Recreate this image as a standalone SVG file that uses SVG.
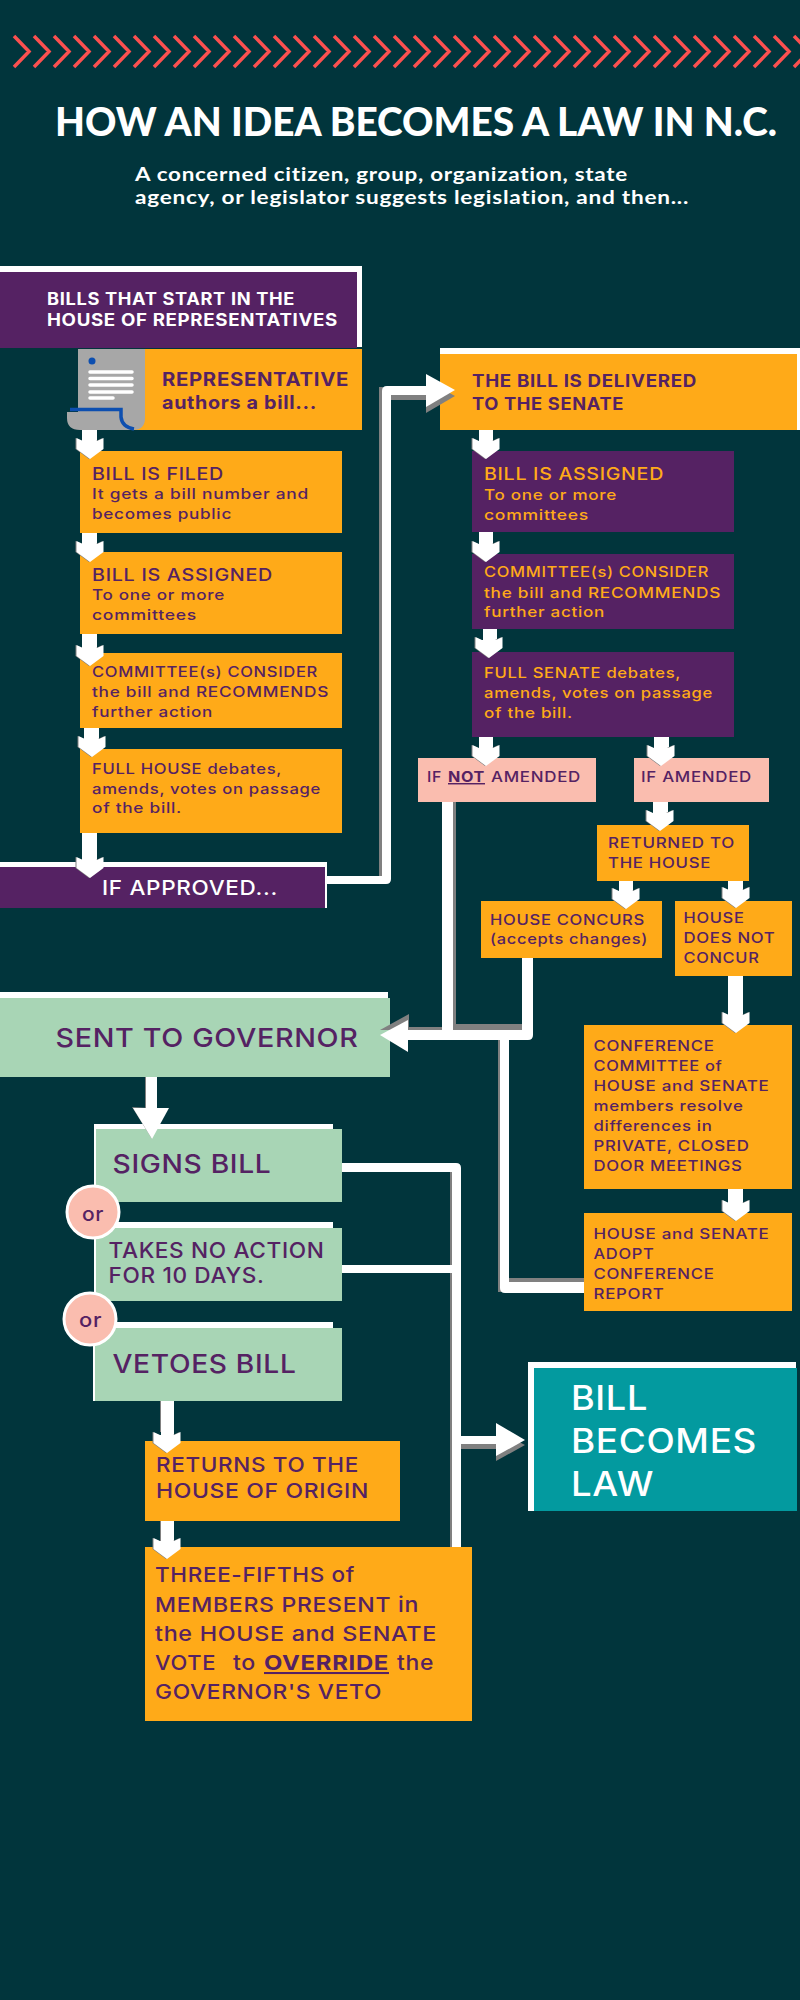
<svg xmlns="http://www.w3.org/2000/svg" width="800" height="2000" viewBox="0 0 800 2000">
<style>
text{font-family:Inter,"Liberation Sans",sans-serif;font-weight:500;fill:#552263;letter-spacing:.6px}
.l{font-family:Lato,"Liberation Sans",sans-serif;font-weight:700;fill:#fff}
.b{font-weight:700}
.o{fill:#ffaa18}.p{fill:#552263}.g{fill:#a8d5b5}.k{fill:#fabdaf}.w{fill:#fff}.s{fill:#808080}
text.wt{fill:#fff}text.y{fill:#ffaa18}
.s14{font-size:14.5px}.s17{font-size:17px}.s21{font-size:20.5px}
.c{fill:#fabdaf;stroke:#fff;stroke-width:3}
</style>
<defs>
<path id="hd" d="M0 0L-13.5-10V-21L-7-18H7L13.5-21V-10Z"/>
<g id="d"><use href="#hd" x="-1" fill="#808080"/><use href="#hd" fill="#fff"/></g>
</defs>
<rect width="800" height="2000" fill="#01353c"/>
<path id="chevrons" fill="none" stroke="#fb5050" stroke-width="3.500" d="M14 36l15 15.500l-15 15.500M34 36l15 15.500l-15 15.500M54 36l15 15.500l-15 15.500M74 36l15 15.500l-15 15.500M94 36l15 15.500l-15 15.500M114 36l15 15.500l-15 15.500M134 36l15 15.500l-15 15.500M154 36l15 15.500l-15 15.500M174 36l15 15.500l-15 15.500M194 36l15 15.500l-15 15.500M214 36l15 15.500l-15 15.500M234 36l15 15.500l-15 15.500M254 36l15 15.500l-15 15.500M274 36l15 15.500l-15 15.500M294 36l15 15.500l-15 15.500M314 36l15 15.500l-15 15.500M334 36l15 15.500l-15 15.500M354 36l15 15.500l-15 15.500M374 36l15 15.500l-15 15.500M394 36l15 15.500l-15 15.500M414 36l15 15.500l-15 15.500M434 36l15 15.500l-15 15.500M454 36l15 15.500l-15 15.500M474 36l15 15.500l-15 15.500M494 36l15 15.500l-15 15.500M514 36l15 15.500l-15 15.500M534 36l15 15.500l-15 15.500M554 36l15 15.500l-15 15.500M574 36l15 15.500l-15 15.500M594 36l15 15.500l-15 15.500M614 36l15 15.500l-15 15.500M634 36l15 15.500l-15 15.500M654 36l15 15.500l-15 15.500M674 36l15 15.500l-15 15.500M694 36l15 15.500l-15 15.500M714 36l15 15.500l-15 15.500M734 36l15 15.500l-15 15.500M754 36l15 15.500l-15 15.500M774 36l15 15.500l-15 15.500M794 36l15 15.500l-15 15.500"/>
<g id="title">
<text class="l" style="font-weight:900;letter-spacing:0" x="55" y="136" font-size="40" textLength="722" lengthAdjust="spacingAndGlyphs">HOW AN IDEA BECOMES A LAW IN N.C.</text>
<text class="l" x="135" y="181" font-size="18.500" textLength="493" lengthAdjust="spacingAndGlyphs">A concerned citizen, group, organization, state</text>
<text class="l" x="135" y="204" font-size="18.500" textLength="554" lengthAdjust="spacingAndGlyphs">agency, or legislator suggests legislation, and then...</text>
</g>

<g id="house-header">
<rect class="w" y="266" width="362" height="81"/><rect class="p" y="272" width="357" height="76"/>
<text class="b s17 wt" x="47" y="305" textLength="248" lengthAdjust="spacingAndGlyphs">BILLS THAT START IN THE</text>
<text class="b s17 wt" x="47" y="326" textLength="291" lengthAdjust="spacingAndGlyphs">HOUSE OF REPRESENTATIVES</text>
</g>
<g id="representative">
<rect class="o" x="120" y="349" width="242" height="81"/>
<path fill="#a7a7a7" d="M78 349H145V418Q145 430 133 430H80Q67 430 67 418V412H78Z"/>
<path fill="none" stroke="#0d4fb0" stroke-width="3.500" d="M70 409.500H121V417Q122 427 134 429"/>
<circle cx="92" cy="361" r="3.500" fill="#0d4fb0"/>
<path fill="none" stroke="#fff" stroke-width="3.500" stroke-linecap="round" d="M90 372H132M90 378.500H132M90 385H132M90 392H132M90 398H113"/>
<text class="b" font-size="18.500" x="162" y="386" textLength="187" lengthAdjust="spacingAndGlyphs">REPRESENTATIVE</text>
<text class="b" font-size="18.500" x="162" y="409" textLength="155" lengthAdjust="spacingAndGlyphs">authors a bill...</text>
</g>
<g id="bill-filed">
<rect class="o" x="80" y="451" width="262" height="82"/>
<text class="s17" x="92" y="480" textLength="132" lengthAdjust="spacingAndGlyphs">BILL IS FILED</text>
<text class="s14" x="92" y="499" textLength="217" lengthAdjust="spacingAndGlyphs">It gets a bill number and</text>
<text class="s14" x="92" y="519" textLength="140" lengthAdjust="spacingAndGlyphs">becomes public</text>
</g>
<g id="bill-assigned">
<rect class="o" x="80" y="552" width="262" height="82"/>
<text class="s17" x="92" y="581" textLength="181" lengthAdjust="spacingAndGlyphs">BILL IS ASSIGNED</text>
<text class="s14" x="92" y="600" textLength="133" lengthAdjust="spacingAndGlyphs">To one or more</text>
<text class="s14" x="92" y="620" textLength="105" lengthAdjust="spacingAndGlyphs">committees</text>
</g>
<g id="committee">
<rect class="o" x="80" y="653" width="262" height="75"/>
<text class="s14" x="92" y="677" textLength="226" lengthAdjust="spacingAndGlyphs">COMMITTEE(s) CONSIDER</text>
<text class="s14" x="92" y="697" textLength="237" lengthAdjust="spacingAndGlyphs">the bill and RECOMMENDS</text>
<text class="s14" x="92" y="717" textLength="121" lengthAdjust="spacingAndGlyphs">further action</text>
</g>
<g id="full-house">
<rect class="o" x="80" y="749" width="262" height="84"/>
<text class="s14" x="92" y="774" textLength="190" lengthAdjust="spacingAndGlyphs">FULL HOUSE debates,</text>
<text class="s14" x="92" y="793.500" textLength="229" lengthAdjust="spacingAndGlyphs">amends, votes on passage</text>
<text class="s14" x="92" y="813" textLength="90" lengthAdjust="spacingAndGlyphs">of the bill.</text>
</g>
<g id="if-approved">
<rect class="w" y="862" width="327" height="46"/><rect class="p" y="867" width="325" height="41"/>
<text class="wt" font-size="20" x="102" y="895" textLength="176" lengthAdjust="spacingAndGlyphs">IF APPROVED...</text>
</g>
<g id="senate">
<rect class="w" x="440" y="348" width="360" height="82"/><rect class="o" x="440" y="354" width="357" height="76"/>
<text class="b s17" x="472" y="387" textLength="225" lengthAdjust="spacingAndGlyphs">THE BILL IS DELIVERED</text>
<text class="b s17" x="472" y="410" textLength="152" lengthAdjust="spacingAndGlyphs">TO THE SENATE</text>
</g>
<g id="senate-assigned">
<rect class="p" x="472" y="451" width="262" height="81"/>
<text class="s17 y" x="484" y="480" textLength="180" lengthAdjust="spacingAndGlyphs">BILL IS ASSIGNED</text>
<text class="s14 y" x="484" y="499.500" textLength="133" lengthAdjust="spacingAndGlyphs">To one or more</text>
<text class="s14 y" x="484" y="520" textLength="105" lengthAdjust="spacingAndGlyphs">committees</text>
</g>
<g id="senate-committee">
<rect class="p" x="472" y="554" width="262" height="75"/>
<text class="s14 y" x="484" y="577" textLength="225" lengthAdjust="spacingAndGlyphs">COMMITTEE(s) CONSIDER</text>
<text class="s14 y" x="484" y="597.500" textLength="237" lengthAdjust="spacingAndGlyphs">the bill and RECOMMENDS</text>
<text class="s14 y" x="484" y="617" textLength="121" lengthAdjust="spacingAndGlyphs">further action</text>
</g>
<g id="full-senate">
<rect class="p" x="472" y="652" width="262" height="85"/>
<text class="s14 y" x="484" y="677.500" textLength="197" lengthAdjust="spacingAndGlyphs">FULL SENATE debates,</text>
<text class="s14 y" x="484" y="698" textLength="229" lengthAdjust="spacingAndGlyphs">amends, votes on passage</text>
<text class="s14 y" x="484" y="718" textLength="89" lengthAdjust="spacingAndGlyphs">of the bill.</text>
</g>
<g id="if-not-amended">
<rect class="k" x="418" y="758" width="178" height="44"/>
<text class="s14" y="782"><tspan x="427" textLength="15" lengthAdjust="spacingAndGlyphs">IF</tspan> <tspan class="b" x="448" textLength="37" lengthAdjust="spacingAndGlyphs" text-decoration="underline">NOT</tspan> <tspan x="491" textLength="90" lengthAdjust="spacingAndGlyphs">AMENDED</tspan></text>
</g>
<g id="if-amended">
<rect class="k" x="634" y="758" width="135" height="44"/>
<text class="s14" x="641" y="782" textLength="111" lengthAdjust="spacingAndGlyphs">IF AMENDED</text>
</g>
<g id="returned">
<rect class="o" x="597" y="825" width="152" height="56"/>
<text class="s14" x="608" y="848" textLength="127" lengthAdjust="spacingAndGlyphs">RETURNED TO</text>
<text class="s14" x="608" y="868" textLength="103" lengthAdjust="spacingAndGlyphs">THE HOUSE</text>
</g>
<g id="concurs">
<rect class="o" x="481" y="901" width="181" height="57"/>
<text class="s14" x="490" y="924.500" textLength="155" lengthAdjust="spacingAndGlyphs">HOUSE CONCURS</text>
<text class="s14" x="490" y="944" textLength="158" lengthAdjust="spacingAndGlyphs">(accepts changes)</text>
</g>
<g id="not-concur">
<rect class="o" x="675" y="901" width="117" height="75"/>
<text class="s14" x="683.500" y="923" textLength="61" lengthAdjust="spacingAndGlyphs">HOUSE</text>
<text class="s14" x="683.500" y="943" textLength="92" lengthAdjust="spacingAndGlyphs">DOES NOT</text>
<text class="s14" x="683.500" y="963" textLength="76" lengthAdjust="spacingAndGlyphs">CONCUR</text>
</g>
<g id="conference">
<rect class="o" x="584" y="1025" width="208" height="164"/>
<text class="s14" x="593.500" y="1051" textLength="121" lengthAdjust="spacingAndGlyphs">CONFERENCE</text>
<text class="s14" x="593.500" y="1071" textLength="129" lengthAdjust="spacingAndGlyphs">COMMITTEE of</text>
<text class="s14" x="593.500" y="1091" textLength="176" lengthAdjust="spacingAndGlyphs">HOUSE and SENATE</text>
<text class="s14" x="593.500" y="1111" textLength="150" lengthAdjust="spacingAndGlyphs">members resolve</text>
<text class="s14" x="593.500" y="1131" textLength="119" lengthAdjust="spacingAndGlyphs">differences in</text>
<text class="s14" x="593.500" y="1151" textLength="156" lengthAdjust="spacingAndGlyphs">PRIVATE, CLOSED</text>
<text class="s14" x="593.500" y="1171" textLength="149" lengthAdjust="spacingAndGlyphs">DOOR MEETINGS</text>
</g>
<g id="adopt">
<rect class="o" x="584" y="1213" width="208" height="98"/>
<text class="s14" x="593.500" y="1239" textLength="176" lengthAdjust="spacingAndGlyphs">HOUSE and SENATE</text>
<text class="s14" x="593.500" y="1259" textLength="61" lengthAdjust="spacingAndGlyphs">ADOPT</text>
<text class="s14" x="593.500" y="1279" textLength="121" lengthAdjust="spacingAndGlyphs">CONFERENCE</text>
<text class="s14" x="593.500" y="1299" textLength="71" lengthAdjust="spacingAndGlyphs">REPORT</text>
</g>
<g id="governor">
<rect class="w" y="992" width="388" height="10"/><rect class="g" y="998" width="390" height="79"/>
<text font-size="26" x="55.500" y="1047" textLength="303" lengthAdjust="spacingAndGlyphs">SENT TO GOVERNOR</text>
</g>
<g id="signs">
<rect class="w" x="94" y="1124" width="239" height="78"/><rect class="g" x="96" y="1129" width="246" height="73"/>
<text font-size="25" x="112.500" y="1173" textLength="159" lengthAdjust="spacingAndGlyphs">SIGNS BILL</text>
</g>
<g id="takes">
<rect class="w" x="94" y="1222" width="239" height="79"/><rect class="g" x="96" y="1228" width="246" height="73"/>
<text font-size="21.500" x="108.500" y="1258" textLength="216" lengthAdjust="spacingAndGlyphs">TAKES NO ACTION</text>
<text font-size="21.500" x="108.500" y="1283" textLength="156" lengthAdjust="spacingAndGlyphs">FOR 10 DAYS.</text>
</g>
<g id="vetoes">
<rect class="w" x="93" y="1322" width="240" height="79"/><rect class="g" x="95" y="1328" width="247" height="73"/>
<text font-size="25" x="112.500" y="1373" textLength="184" lengthAdjust="spacingAndGlyphs">VETOES BILL</text>
</g>
<g id="or-1">
<circle class="c" cx="93" cy="1212" r="26"/>
<text font-size="20" x="82" y="1221" textLength="22" lengthAdjust="spacingAndGlyphs">or</text>
</g>
<g id="or-2">
<circle class="c" cx="90" cy="1319" r="26"/>
<text font-size="20" x="79" y="1327" textLength="23" lengthAdjust="spacingAndGlyphs">or</text>
</g>
<g id="returns">
<rect class="o" x="145" y="1441" width="255" height="80"/>
<text class="s21" x="156" y="1472" textLength="203" lengthAdjust="spacingAndGlyphs">RETURNS TO THE</text>
<text class="s21" x="156" y="1498" textLength="213" lengthAdjust="spacingAndGlyphs">HOUSE OF ORIGIN</text>
</g>
<g id="override">
<rect class="o" x="145" y="1547" width="327" height="174"/>
<text class="s21" x="155" y="1582" textLength="200" lengthAdjust="spacingAndGlyphs">THREE-FIFTHS of</text>
<text class="s21" x="155" y="1612" textLength="264" lengthAdjust="spacingAndGlyphs">MEMBERS PRESENT in</text>
<text class="s21" x="155" y="1641" textLength="282" lengthAdjust="spacingAndGlyphs">the HOUSE and SENATE</text>
<text class="s21" y="1670"><tspan x="155" textLength="61" lengthAdjust="spacingAndGlyphs">VOTE</tspan> <tspan x="233" textLength="23" lengthAdjust="spacingAndGlyphs">to</tspan> <tspan class="b" x="264" textLength="125" lengthAdjust="spacingAndGlyphs" text-decoration="underline">OVERRIDE</tspan> <tspan x="397" textLength="37" lengthAdjust="spacingAndGlyphs">the</tspan></text>
<text class="s21" x="155" y="1699" textLength="227" lengthAdjust="spacingAndGlyphs">GOVERNOR'S VETO</text>
</g>
<g id="law">
<rect class="w" x="528" y="1362" width="268" height="149"/><rect x="534" y="1368" width="263" height="143" fill="#039a9f"/>
<text class="wt" font-size="34" x="571" y="1410" textLength="77" lengthAdjust="spacingAndGlyphs">BILL</text>
<text class="wt" font-size="34" x="571" y="1453" textLength="186" lengthAdjust="spacingAndGlyphs">BECOMES</text>
<text class="wt" font-size="34" x="571" y="1496" textLength="83" lengthAdjust="spacingAndGlyphs">LAW</text>
</g>

<g id="connectors">
<g class="s">
<rect x="379" y="387" width="4" height="490"/><rect x="383" y="394" width="43" height="6"/>
<path d="M426 380L455 396L426 413Z"/>
<rect x="453" y="802" width="3" height="228"/><rect x="456" y="1024" width="66" height="6"/>
<rect x="409" y="1027" width="33" height="3"/><path d="M380 1030L409 1014V1030Z"/>
<rect x="498" y="1040" width="3" height="252"/><rect x="509" y="1278" width="75" height="4"/>
<rect x="450" y="1172" width="2" height="375"/><rect x="461" y="1444" width="35" height="5"/>
<path d="M496 1430L525 1445L496 1461Z"/>
<rect x="145" y="1077" width="1" height="35"/><path d="M132 1107L152 1139L150 1108Z"/>
<rect x="160" y="1401" width="2" height="31"/><rect x="160" y="1521" width="2" height="20"/>
</g>
<g class="w">
<path d="M327 876H382V391Q382 386 387 386H430V395H391V879Q391 884 386 884H327Z"/>
<path d="M426 374L455 390L426 407Z"/>
<rect x="442" y="802" width="11" height="238"/>
<path d="M408 1030H522V958H533V1035Q533 1040 528 1040H408Z"/>
<path d="M380 1035L408 1020V1052Z"/>
<path d="M500 1040H509V1282H584V1293H505Q500 1293 500 1288Z"/>
<path d="M342 1163H456Q461 1163 461 1168V1547H452V1172H342Z"/>
<rect x="342" y="1265" width="110" height="8"/>
<rect x="461" y="1436" width="35" height="8"/>
<path d="M496 1423L525 1440L496 1456Z"/>
<rect x="146" y="1077" width="11" height="35"/>
<path d="M133 1108H169L152 1139Z"/>
</g>
<rect class="w" x="82" y="430" width="15" height="14"/><use href="#d" x="90" y="459"/>
<rect class="w" x="82" y="533" width="15" height="14"/><use href="#d" x="90" y="562"/>
<rect class="w" x="82" y="634" width="15" height="16"/><use href="#d" x="90" y="666"/>
<rect class="w" x="84" y="728" width="15" height="14"/><use href="#d" x="92" y="757"/>
<rect class="w" x="82" y="833" width="15" height="30"/><use href="#d" x="90" y="878"/>
<rect class="w" x="479" y="430" width="14" height="14"/><use href="#d" x="486" y="459"/>
<rect class="w" x="479" y="532" width="14" height="15"/><use href="#d" x="486" y="562"/>
<rect class="w" x="483" y="629" width="14" height="14"/><use href="#d" x="489" y="658"/>
<rect class="w" x="479" y="737" width="14" height="14"/><use href="#d" x="486" y="766"/>
<rect class="w" x="654" y="737" width="15" height="14"/><use href="#d" x="661" y="766"/>
<rect class="w" x="653" y="802" width="15" height="14"/><use href="#d" x="660" y="831"/>
<rect class="w" x="619" y="881" width="14" height="13"/><use href="#d" x="626" y="909"/>
<rect class="w" x="728" y="881" width="15" height="13"/><use href="#d" x="736" y="908"/>
<rect class="w" x="728" y="976" width="15" height="42"/><use href="#d" x="736" y="1033"/>
<rect class="w" x="728" y="1189" width="15" height="17"/><use href="#d" x="736" y="1221"/>
<rect class="w" x="161" y="1401" width="13" height="37"/><use href="#d" x="167" y="1453"/>
<rect class="w" x="161" y="1521" width="13" height="23"/><use href="#d" x="167" y="1559"/>
</g>
</svg>
